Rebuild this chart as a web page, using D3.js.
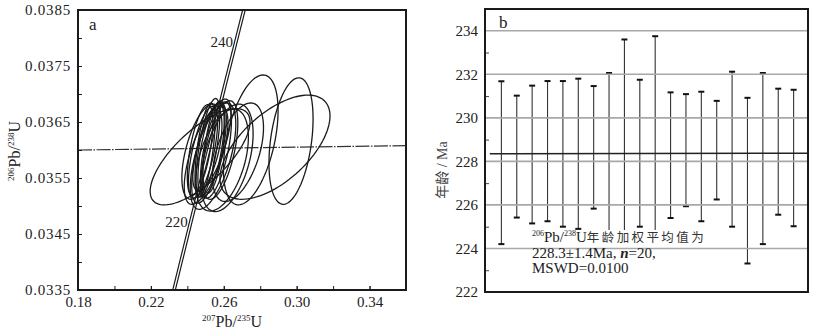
<!DOCTYPE html>
<html><head><meta charset="utf-8">
<script src="https://cdn.jsdelivr.net/npm/d3@7"></script>
<style>
html,body{margin:0;padding:0;background:#fff;}
svg{display:block;font-family:"Liberation Serif","Times New Roman",serif;}
text{font-family:"Liberation Serif","Times New Roman",serif;fill:#222;}
</style></head><body>
<svg id="c" width="815" height="336"></svg>
<script>
// ---------- Panel a: concordia diagram ----------
const xTicksA = [0.18, 0.22, 0.26, 0.30, 0.34];
const xMinorA = [0.18, 0.20, 0.22, 0.24, 0.26, 0.28, 0.30, 0.32, 0.34, 0.36];
const yTicksA = [0.0335, 0.0345, 0.0355, 0.0365, 0.0375, 0.0385];
const yMinorA = [0.0335, 0.0340, 0.0345, 0.0350, 0.0355, 0.0360, 0.0365, 0.0370, 0.0375, 0.0380, 0.0385];
// concordia points (207Pb/235U, 206Pb/238U)
const concAge = [210, 215, 220, 225, 230, 235, 240, 245];
const concX = [0.22976, 0.23583, 0.24190, 0.24806, 0.25423, 0.26041, 0.26664, 0.27289];
const concY = [0.033113, 0.033914, 0.034717, 0.035519, 0.036323, 0.037127, 0.037932, 0.038737];
const concLabels = [220, 240];
// reference line across the diagram
const refX = [0.18, 0.36];
const refY = [0.03600, 0.036077];
// error ellipses: centre, half-widths, correlation
const ellX   = [0.2470, 0.2748, 0.2969, 0.2881, 0.2618, 0.2678, 0.2497, 0.2513, 0.2530, 0.2486, 0.2546, 0.2519, 0.2557, 0.2470, 0.2535, 0.2503, 0.2579, 0.2541, 0.2590, 0.2480];
const ellY   = [0.03588, 0.03618, 0.03616, 0.03605, 0.03586, 0.03596, 0.03600, 0.03604, 0.03600, 0.03596, 0.03605, 0.03595, 0.03600, 0.03600, 0.03609, 0.03591, 0.03600, 0.03589, 0.03582, 0.03597];
const ellSX  = [0.0274, 0.0150, 0.0121, 0.0302, 0.0143, 0.0140, 0.0055, 0.0065, 0.0072, 0.0080, 0.0060, 0.0095, 0.0085, 0.0070, 0.0105, 0.0120, 0.0098, 0.0125, 0.0145, 0.0110];
const ellSY  = [0.00086, 0.00116, 0.00113, 0.00093, 0.00096, 0.00088, 0.00084, 0.00088, 0.00084, 0.00082, 0.00082, 0.00090, 0.00086, 0.00081, 0.00082, 0.00088, 0.00088, 0.00095, 0.00091, 0.00085];
const ellRho = [0.72, 0.45, 0.35, 0.60, 0.45, 0.50, 0.60, 0.65, 0.60, 0.65, 0.55, 0.65, 0.60, 0.60, 0.70, 0.65, 0.55, 0.60, 0.45, 0.55];

// ---------- Panel b: weighted mean plot ----------
const yTicksB = [222, 224, 226, 228, 230, 232, 234];
const yMinorB = [223, 225, 227, 229, 231, 233];
const gridB = [224, 226, 228, 230, 232, 234];
const ageTop = [231.68, 231.02, 231.48, 231.69, 231.69, 231.80, 231.46, 232.06, 233.60, 231.75, 233.75, 231.17, 231.09, 231.20, 230.78, 232.12, 230.92, 232.06, 231.34, 231.29];
const ageBot = [224.20, 225.42, 225.15, 225.25, 225.00, 224.90, 225.83, 224.60, 223.10, 225.00, 223.00, 225.40, 225.94, 225.25, 226.25, 225.00, 223.31, 224.20, 225.55, 225.02];
const meanAge = 228.35;

const svg = d3.select("#c");
const ink = "#1a1a1a";
const SERIF = "Liberation Serif";

// ===== Panel a =====
const xA = d3.scaleLinear().domain([0.18, 0.36]).range([78, 406]);
const yA = d3.scaleLinear().domain([0.0335, 0.0385]).range([290, 10]);
const gA = svg.append("g");
gA.append("clipPath").attr("id", "clipA").append("rect")
  .attr("x", 78).attr("y", 10).attr("width", 328).attr("height", 280);
const plotA = gA.append("g").attr("clip-path", "url(#clipA)");

// reference line
plotA.append("path")
  .attr("d", d3.line()(refX.map((d, i) => [xA(d), yA(refY[i])])))
  .attr("fill", "none").attr("stroke", "#333").attr("stroke-width", 1.2)
  .attr("stroke-dasharray", "14,1.5,1.5,1.5");

// ellipses
const tSteps = d3.range(0, 97).map(k => k / 96 * 2 * Math.PI);
ellX.forEach((cx, i) => {
  const sx = ellSX[i], sy = ellSY[i], r = ellRho[i], cy = ellY[i];
  const pts = tSteps.map(t => [xA(cx + sx * Math.cos(t)),
    yA(cy + sy * (r * Math.cos(t) + Math.sqrt(1 - r * r) * Math.sin(t)))]);
  plotA.append("path").attr("d", d3.line().curve(d3.curveLinearClosed)(pts))
    .attr("fill", "none").attr("stroke", ink).attr("stroke-width", 1.3);
});

// concordia (double line)
const concPts = concX.map((d, i) => [xA(d), yA(concY[i])]);
[-1.3, 1.3].forEach(off => {
  plotA.append("path").attr("d", d3.line().curve(d3.curveMonotoneY)(concPts))
    .attr("transform", `translate(${off},0)`)
    .attr("fill", "none").attr("stroke", ink).attr("stroke-width", 1.2);
});
concLabels.forEach(a => {
  const i = concAge.indexOf(a);
  gA.append("text").attr("x", xA(concX[i]) - 3).attr("y", yA(concY[i]) + 5)
    .attr("font-family", SERIF).attr("text-anchor", "end").attr("font-size", 15).text(a);
});

// axes
const axBA = d3.axisBottom(xA).tickValues(xTicksA).tickFormat(d3.format(".2f"))
  .tickSizeInner(-4).tickSizeOuter(0).tickPadding(6);
const gxA = gA.append("g").attr("transform", "translate(0,290)").call(axBA);
gA.append("g").attr("transform", "translate(0,290)")
  .call(d3.axisBottom(xA).tickValues(xMinorA).tickFormat("").tickSizeInner(-4).tickSizeOuter(0))
  .select(".domain").remove();
const axLA = d3.axisLeft(yA).tickValues(yTicksA).tickFormat(d3.format(".4f"))
  .tickSizeInner(-4).tickSizeOuter(0).tickPadding(7);
const gyA = gA.append("g").attr("transform", "translate(78,0)").call(axLA);
gA.append("g").attr("transform", "translate(78,0)")
  .call(d3.axisLeft(yA).tickValues(yMinorA).tickFormat("").tickSizeInner(-4).tickSizeOuter(0))
  .select(".domain").remove();
[gxA, gyA].forEach(g => {
  g.attr("font-family", SERIF);
  g.select(".domain").remove();
  g.selectAll(".tick text").attr("font-family", SERIF).attr("font-size", 15).attr("fill", "#222");
});
gA.selectAll(".tick line").attr("stroke", ink).attr("stroke-width", 1);
gyA.selectAll(".tick text").attr("letter-spacing", 0.8).attr("x", -7);
gA.append("rect").attr("x", 78).attr("y", 10).attr("width", 328).attr("height", 280)
  .attr("fill", "none").attr("stroke", ink).attr("stroke-width", 2);
gA.append("text").attr("x", 89).attr("y", 30).attr("font-family", SERIF).attr("font-size", 17).text("a");

// axis titles
const xt = gA.append("text").attr("x", 232).attr("y", 327).attr("text-anchor", "middle")
  .attr("font-family", SERIF).attr("font-size", 16);
xt.append("tspan").attr("font-size", 9).attr("dy", -6).text("207");
xt.append("tspan").attr("dy", 6).text("Pb/");
xt.append("tspan").attr("font-size", 9).attr("dy", -6).text("235");
xt.append("tspan").attr("dy", 6).text("U");
const yt = gA.append("text").attr("transform", "translate(20,151) rotate(-90)").attr("text-anchor", "middle")
  .attr("font-family", SERIF).attr("font-size", 16);
yt.append("tspan").attr("font-size", 9).attr("dy", -6).text("206");
yt.append("tspan").attr("dy", 6).text("Pb/");
yt.append("tspan").attr("font-size", 9).attr("dy", -6).text("238");
yt.append("tspan").attr("dy", 6).text("U");

// ===== Panel b =====
const xB = d3.scaleLinear().domain([0, 21]).range([486, 809]);
const yB = d3.scaleLinear().domain([222, 235]).range([292, 9]);
const gB = svg.append("g");

// error bars
ageTop.forEach((t, i) => {
  const x = xB(i + 1);
  gB.append("line").attr("x1", x).attr("x2", x).attr("y1", yB(t)).attr("y2", yB(ageBot[i]))
    .attr("stroke", "#333").attr("stroke-width", 1.1);
  [t, ageBot[i]].forEach(v => gB.append("line").attr("x1", x - 3).attr("x2", x + 3)
    .attr("y1", yB(v)).attr("y2", yB(v)).attr("stroke", "#111").attr("stroke-width", 2));
});

// annotation box
gB.append("rect").attr("x", 530).attr("y", 230).attr("width", 176).attr("height", 46).attr("fill", "#fff");

// gridlines
gB.selectAll(".grid").data(gridB).join("line").attr("class", "grid")
  .attr("x1", 486).attr("x2", 807).attr("y1", d => yB(d)).attr("y2", d => yB(d))
  .attr("stroke", "#a8a8a8").attr("stroke-width", 1.6);

// mean line
gB.append("line").attr("x1", xB(0.25)).attr("x2", 807).attr("y1", yB(meanAge)).attr("y2", yB(meanAge) - 0.6)
  .attr("stroke", "#222").attr("stroke-width", 1.5);

// axis
const gyB = gB.append("g").attr("transform", "translate(485,0)")
  .call(d3.axisLeft(yB).tickValues(yTicksB).tickFormat(d3.format("d")).tickSizeInner(0).tickSizeOuter(0).tickPadding(7));
gyB.attr("font-family", SERIF);
gyB.select(".domain").remove();
gyB.selectAll(".tick text").attr("font-family", SERIF).attr("font-size", 15).attr("fill", "#222");
const gyB2 = gB.append("g").attr("transform", "translate(485,0)")
  .call(d3.axisLeft(yB).tickValues(yMinorB).tickFormat("").tickSizeInner(-4).tickSizeOuter(0));
gyB2.select(".domain").remove();
gyB2.selectAll(".tick line").attr("stroke", "#444");

gB.append("rect").attr("x", 485).attr("y", 9).attr("width", 323).attr("height", 283)
  .attr("fill", "none").attr("stroke", ink).attr("stroke-width", 2);
gB.append("text").attr("x", 499).attr("y", 28).attr("font-family", SERIF).attr("font-size", 17).text("b");

// y title
const ytb = gB.append("text").attr("transform", "translate(447,170) rotate(-90)").attr("text-anchor", "middle")
  .attr("font-size", 14).attr("fill", "#444");
ytb.append("tspan").attr("font-family", "Noto Sans CJK SC").attr("fill", "#444").text("年龄");
ytb.append("tspan").attr("font-family", SERIF).attr("fill", "#444").text(" / Ma");

// annotation text
const t1 = gB.append("text").attr("x", 532).attr("y", 242).attr("font-family", SERIF).attr("font-size", 15);
t1.append("tspan").attr("font-size", 8).attr("dy", -6).text("206");
t1.append("tspan").attr("dy", 6).text("Pb/");
t1.append("tspan").attr("font-size", 8).attr("dy", -6).text("238");
t1.append("tspan").attr("dy", 6).text("U");
t1.append("tspan").attr("font-family", "Noto Sans CJK SC").attr("font-size", 12.5)
  .attr("letter-spacing", 2.4).attr("fill", "#333").text("年龄加权平均值为");
const t2 = gB.append("text").attr("x", 532).attr("y", 258).attr("font-family", SERIF).attr("font-size", 15);
t2.append("tspan").text("228.3±1.4Ma, ");
t2.append("tspan").attr("font-style", "italic").attr("font-weight", "bold").text("n");
t2.append("tspan").text("=20,");
gB.append("text").attr("x", 532).attr("y", 273).attr("font-family", SERIF).attr("font-size", 15).text("MSWD=0.0100");
</script>
</body></html>
